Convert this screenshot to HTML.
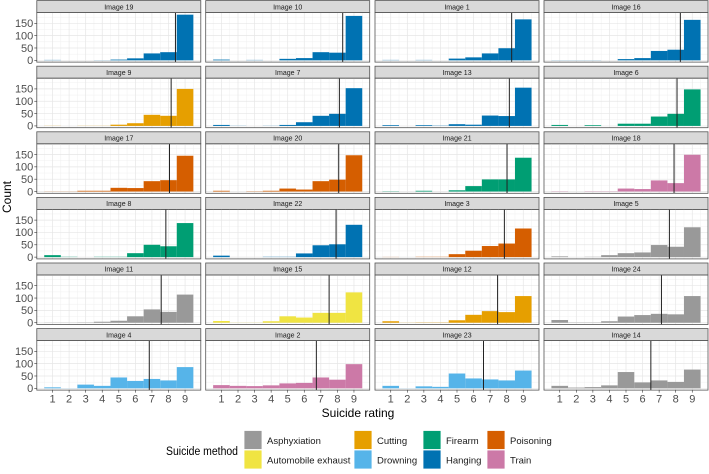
<!DOCTYPE html>
<html><head><meta charset="utf-8"><style>
html,body{margin:0;padding:0;background:#fff;}
svg{display:block;font-family:"Liberation Sans",sans-serif;}
</style></head><body>
<svg id="chart" width="709" height="474" viewBox="0 0 709 474" xmlns="http://www.w3.org/2000/svg">
<text x="0" y="0" transform="translate(11,197) rotate(-90)" text-anchor="middle" font-size="12" fill="#000">Count</text>
<text x="358" y="417" text-anchor="middle" font-size="12" fill="#000">Suicide rating</text>
<g id="legend">
<text x="166" y="455" font-size="11.5" textLength="72" lengthAdjust="spacingAndGlyphs" fill="#000">Suicide method</text>
</g>
</svg>
<script>
const panelTitles = ["Image 19","Image 10","Image 1","Image 16","Image 9","Image 7","Image 13","Image 6","Image 17","Image 20","Image 21","Image 18","Image 8","Image 22","Image 3","Image 5","Image 11","Image 15","Image 12","Image 24","Image 4","Image 2","Image 23","Image 14"];
const panelMethods = ["Hanging","Hanging","Hanging","Hanging","Cutting","Hanging","Hanging","Firearm","Poisoning","Poisoning","Firearm","Train","Firearm","Hanging","Poisoning","Asphyxiation","Asphyxiation","Automobile exhaust","Cutting","Asphyxiation","Drowning","Train","Drowning","Asphyxiation"];
const panelCounts = [
[2,0,0,1,3,8,28,33,185],
[3,0,2,0,6,9,33,31,180],
[2,0,2,0,7,12,28,49,166],
[1,1,1,0,5,9,38,43,164],
[1,0,1,1,5,11,45,41,150],
[4,1,0,1,4,15,41,49,153],
[3,0,3,2,7,5,42,40,155],
[4,0,3,0,9,9,38,49,148],
[1,1,3,3,15,14,42,46,145],
[3,0,2,3,12,8,42,48,147],
[2,0,3,0,5,22,49,49,137],
[2,0,2,2,12,10,45,34,149],
[8,2,0,2,2,16,50,44,138],
[6,0,0,2,2,15,48,52,131],
[1,0,2,2,12,26,45,55,116],
[3,0,2,8,16,19,49,42,121],
[1,1,2,4,8,26,54,44,114],
[7,1,1,6,26,21,40,40,123],
[6,1,2,2,10,32,47,43,108],
[11,2,2,6,25,31,36,34,108],
[4,1,15,10,44,30,38,32,86],
[13,10,9,12,20,22,44,35,98],
[10,1,8,6,60,40,36,32,72],
[10,3,5,12,66,24,32,26,76]
];
const panelMeans = [8.42,8.32,8.3,8.28,8.16,8.12,8.16,8.08,8.06,8.08,8.02,7.9,7.84,7.92,7.86,7.62,7.56,7.5,7.45,7.14,6.84,6.73,6.6,6.5];
const ratingTicks = [1,2,3,4,5,6,7,8,9];
const countTicks = [0,50,100,150];
const methodNames = ["Asphyxiation","Automobile exhaust","Cutting","Drowning","Firearm","Hanging","Poisoning","Train"];
const methodColors = ["#999999","#F0E442","#E69F00","#56B4E9","#009E73","#0072B2","#D55E00","#CC79A7"];

const NS="http://www.w3.org/2000/svg";
const svg=document.getElementById('chart');
function mk(tag,attrs,parent){const e=document.createElementNS(NS,tag);for(const k in attrs)e.setAttribute(k,attrs[k]);(parent||svg).appendChild(e);return e;}
const colLeft=[36.8,205.7,375,544], PW=164, rowPitch=65.6, stripH=12, PH=49.5;
const xMin=0.05, xMax=9.95, yMin=-7.2, yMax=193.4;
function colorOf(m){return methodColors[methodNames.indexOf(m)];}

for(let i=0;i<panelTitles.length;i++){
  const r=Math.floor(i/4), c=i%4;
  const L=colLeft[c], sT=0.6+r*rowPitch, T=sT+stripH, B=T+PH;
  const xs=v=>L+(v-xMin)/(xMax-xMin)*PW;
  const ys=v=>B-(v-yMin)/(yMax-yMin)*PH;
  const g=mk('g',{});
  
  
  const strip=mk('rect',{x:L,y:sT,width:PW,height:stripH,fill:'#d9d9d9',stroke:'#555','stroke-width':0.8},g);
  
  
  const st=mk('text',{x:L+PW/2,y:sT+8.7,'text-anchor':'middle','font-size':7,fill:'#1a1a1a'},g);
  st.textContent=panelTitles[i];
  
  
  for(let v=0.5;v<=9.5;v+=1){mk('line',{x1:xs(v),x2:xs(v),y1:T,y2:B,stroke:'#f0f0f0','stroke-width':0.5},g);}
  for(let v=25;v<=175;v+=50){mk('line',{x1:L,x2:L+PW,y1:ys(v),y2:ys(v),stroke:'#f0f0f0','stroke-width':0.5},g);}
  ratingTicks.forEach(v=>mk('line',{x1:xs(v),x2:xs(v),y1:T,y2:B,stroke:'#e6e6e6','stroke-width':0.7},g));
  countTicks.forEach(v=>mk('line',{x1:L,x2:L+PW,y1:ys(v),y2:ys(v),stroke:'#e6e6e6','stroke-width':0.7},g));
  const col=colorOf(panelMethods[i]);
  panelCounts[i].forEach((v,k)=>{
    if(v<=0) return;
    const x=ratingTicks[k];
    const b=mk('rect',{x:xs(x-0.5),y:ys(v),width:xs(x+0.5)-xs(x-0.5),height:ys(0)-ys(v),fill:col,opacity:v<3?0.5:1},g);
    
    
  });
  const ml=mk('line',{x1:xs(panelMeans[i]),x2:xs(panelMeans[i]),y1:T,y2:B,stroke:'#222','stroke-width':1},g);
  
  
  mk('rect',{x:L,y:T,width:PW,height:PH,fill:'none',stroke:'#555','stroke-width':0.8},g);
  if(c===0){
    countTicks.forEach(v=>{
      mk('line',{x1:L-2.5,x2:L,y1:ys(v),y2:ys(v),stroke:'#333','stroke-width':0.6},g);
      const t=mk('text',{x:L-3.5,y:ys(v)+3.8,'text-anchor':'end','font-size':11,fill:'#4d4d4d'},g);
      t.textContent=v;
      
      
    });
  }
  if(r===5){
    ratingTicks.forEach(v=>{
      mk('line',{x1:xs(v),x2:xs(v),y1:B,y2:B+2.5,stroke:'#333','stroke-width':0.6},g);
      const t=mk('text',{x:xs(v),y:B+12.5,'text-anchor':'middle','font-size':11,fill:'#4d4d4d'},g);
      t.textContent=v;
      
      
    });
  }
}
const leg=document.getElementById('legend');
const legX=[244,354,423,487];
methodNames.forEach((m,k)=>{
  const cc=Math.floor(k/2), rr=k%2;
  const x=legX[cc], y=430.5+rr*19.5;
  const item=mk('g',{},leg);
  
  
  mk('rect',{x:x,y:y,width:18,height:19,fill:methodColors[k],stroke:'#fff','stroke-width':0.8},item);
  const t=mk('text',{x:x+23,y:y+13.5,'font-size':9.5,fill:'#1a1a1a'},item);
  t.textContent=m;
});
</script>
</body></html>
